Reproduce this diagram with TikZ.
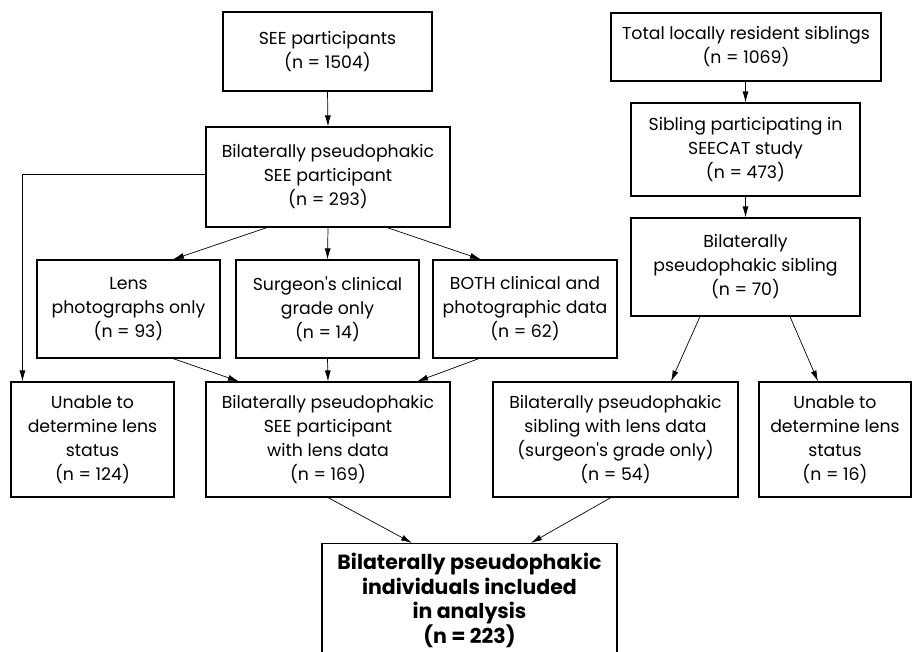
\documentclass[tikz,border=0pt]{standalone}
\usepackage{fontspec}
\setmainfont{Poppins}
\usetikzlibrary{arrows.meta}
\newcommand{\apos}{\textquotesingle}
\begin{document}
\begin{tikzpicture}[x=1pt,y=-1pt,
  box/.style={draw, line width=1.1pt, align=center, inner sep=0pt, font=\fontsize{17.3}{24}\selectfont},
  arr/.style={-{Latex[length=11pt,width=6pt]}, line width=0.7pt}]
\useasboundingbox (0,0) rectangle (912,652);
\begin{scope}
\clip (0,0) rectangle (912,652);
% left column
\node[box, minimum width=209pt, minimum height=79pt] (see) at (327.5,51.5) {SEE participants\\(n = 1504)};
\node[box, minimum width=244pt, minimum height=100pt] (bse) at (328,177) {Bilaterally pseudophakic\\SEE participant\\(n = 293)};
\node[box, minimum width=183pt, minimum height=98pt] (lens) at (128.5,309) {Lens\\photographs only\\(n = 93)};
\node[box, minimum width=183pt, minimum height=98pt] (surg) at (327.5,309) {Surgeon\apos s clinical\\grade only\\(n = 14)};
\node[box, minimum width=184pt, minimum height=98pt] (both) at (525,309) {BOTH clinical and\\photographic data\\(n = 62)};
\node[box, minimum width=163pt, minimum height=115pt] (unl) at (92.5,439.5) {Unable to\\determine lens\\status\\(n = 124)};
\node[box, minimum width=244pt, minimum height=115pt] (bsel) at (328,439.5) {Bilaterally pseudophakic\\SEE participant\\with lens data\\(n = 169)};
\node[box, minimum width=295pt, minimum height=114pt, font=\fontsize{20.5}{24.5}\selectfont\bfseries] (final) at (469.5,600.5) {Bilaterally pseudophakic\\individuals included\\in analysis\\(n = 223)};
% right column
\node[box, minimum width=270pt, minimum height=68pt] (tot) at (746,47) {Total locally resident siblings\\(n = 1069)};
\node[box, minimum width=229pt, minimum height=93pt] (sibp) at (745.5,149.5) {Sibling participating in\\SEECAT study\\(n = 473)};
\node[box, minimum width=229pt, minimum height=98pt] (bps) at (745.5,267) {Bilaterally\\pseudophakic sibling\\(n = 70)};
\node[box, minimum width=245pt, minimum height=115pt] (bsl) at (615.5,439.5) {Bilaterally pseudophakic\\sibling with lens data\\(surgeon\apos s grade only)\\(n = 54)};
\node[box, minimum width=152pt, minimum height=115pt] (unr) at (835,439.5) {Unable to\\determine lens\\status\\(n = 16)};
% connectors
\draw[arr] (see.south) -- (bse.north);
\draw[arr] ([yshift=3pt]bse.west) -| ([xshift=12pt]unl.north west);
\draw[arr] ([xshift=-61pt]bse.south) -- ([xshift=44.5pt]lens.north);
\draw[arr] (bse.south) -- (surg.north);
\draw[arr] ([xshift=59pt]bse.south) -- ([xshift=-44pt]both.north);
\draw[arr] ([xshift=44.5pt]lens.south) -- ([xshift=-89pt]bsel.north);
\draw[arr] (surg.south) -- (bsel.north);
\draw[arr] ([xshift=-46pt]both.south) -- ([xshift=89pt]bsel.north);
\draw[arr] (bsel.south) -- ([xshift=-57.5pt]final.north);
\draw[arr] ([xshift=-4.5pt]bsl.south) -- ([xshift=61.5pt]final.north);
\draw[arr] (tot.south -| sibp.north) -- (sibp.north);
\draw[arr] (sibp.south) -- (bps.north);
\draw[arr] ([xshift=-45.5pt]bps.south) -- ([xshift=55.5pt]bsl.north);
\draw[arr] ([xshift=44.5pt]bps.south) -- ([xshift=-17pt]unr.north);
\end{scope}
\end{tikzpicture}
\end{document}
